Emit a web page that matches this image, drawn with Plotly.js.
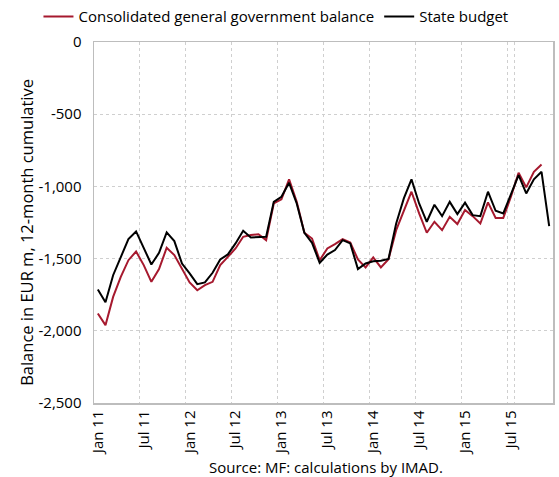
<!DOCTYPE html>
<html>
<head>
<meta charset="utf-8">
<script src="https://cdn.plot.ly/plotly-3.0.1.min.js"></script>
<style>html,body{margin:0;padding:0;background:#fff;}#chart{width:559px;height:477px;}</style>
</head>
<body>
<div id="chart"></div>
<script>
var monthNames = ['Jan','Feb','Mar','Apr','May','Jun','Jul','Aug','Sep','Oct','Nov','Dec'];
var years = ['11','12','13','14','15'];
var categories = [];
years.forEach(function(y){ monthNames.forEach(function(m){ categories.push(m + ' ' + y); }); });

var tickLabels = ['Jan 11','Jul 11','Jan 12','Jul 12','Jan 13','Jul 13','Jan 14','Jul 14','Jan 15','Jul 15'];

var consolidated = [
  -1880,-1961,-1765,-1626,-1511,-1451,-1545,-1661,-1573,-1425,-1476,-1568,
  -1665,-1719,-1684,-1661,-1545,-1488,-1430,-1349,-1337,-1331,-1372,-1118,
  -1090,-951,-1107,-1321,-1361,-1511,-1430,-1400,-1365,-1388,-1506,-1561,
  -1492,-1561,-1504,-1303,-1164,-1037,-1187,-1321,-1245,-1303,-1211,-1261,
  -1164,-1206,-1257,-1111,-1218,-1218,-1072,-906,-1007,-899,-848,null
];
var stateBudget = [
  -1714,-1802,-1615,-1488,-1365,-1312,-1423,-1541,-1460,-1319,-1379,-1534,
  -1603,-1677,-1665,-1598,-1506,-1471,-1395,-1307,-1354,-1349,-1349,-1107,
  -1072,-975,-1118,-1321,-1391,-1529,-1472,-1441,-1372,-1395,-1573,-1534,
  -1518,-1515,-1502,-1257,-1083,-951,-1118,-1245,-1127,-1206,-1107,-1192,
  -1113,-1199,-1206,-1037,-1169,-1187,-1060,-922,-1049,-951,-899,-1275
];
var yTickVals = [0,-500,-1000,-1500,-2000,-2500];
var yTickText = ['0','-500','-1,000','-1,500','-2,000','-2,500'];

var FONT = 'Open Sans, Noto Sans, sans-serif';

var traces = [
  {x: categories, y: consolidated, type: 'scatter', mode: 'lines', name: 'Consolidated general government balance',
   line: {color: '#a6192e', width: 2}},
  {x: categories, y: stateBudget, type: 'scatter', mode: 'lines', name: 'State budget',
   line: {color: '#000000', width: 2}}
];

var layout = {
  width: 559, height: 477,
  margin: {l: 94, r: 6, t: 42, b: 74, autoexpand: false},
  paper_bgcolor: '#fff', plot_bgcolor: '#fff',
  font: {family: FONT, size: 15, color: '#000'},
  showlegend: true,
  legend: {orientation: 'h', x: -0.121, xanchor: 'left', y: 1.07, yanchor: 'middle',
           font: {family: FONT, size: 15, color: '#000'}, bgcolor: 'rgba(0,0,0,0)', itemwidth: 30, tracegroupgap: 0},
  xaxis: {
    type: 'category', range: [-0.5, 59.5],
    tickmode: 'array', tickvals: tickLabels, ticktext: tickLabels,
    tickson: 'boundaries', ticks: '', tickangle: -90,
    showgrid: true, gridcolor: '#cfcfcf', griddash: 'dot', gridwidth: 1,
    showline: true, linecolor: '#bdbdbd', linewidth: 1.5, mirror: true,
    tickfont: {family: FONT, size: 15, color: '#000'},
    zeroline: false
  },
  yaxis: {
    range: [-2500, 0], tickmode: 'array', tickvals: yTickVals, ticktext: yTickText,
    showgrid: true, gridcolor: '#cfcfcf', griddash: 'dot', gridwidth: 1,
    showline: true, linecolor: '#bdbdbd', linewidth: 1.5, mirror: true,
    ticks: '', ticklabelstandoff: 8, zeroline: false,
    tickfont: {family: FONT, size: 15, color: '#000'}
  },
  annotations: [
    {text: 'Balance in EUR m, 12-month cumulative', xref: 'paper', yref: 'paper', x: -0.146, y: 0.474,
     xanchor: 'center', yanchor: 'middle', textangle: -90, showarrow: false,
     font: {family: FONT, size: 16.5, color: '#000'}},
    {text: 'Source: MF: calculations by IMAD.', xref: 'paper', yref: 'paper', x: 0.505, y: -0.176, xanchor: 'center', yanchor: 'middle',
     showarrow: false, font: {family: FONT, size: 15, color: '#000'}}
  ]
};

Plotly.newPlot('chart', traces, layout, {displayModeBar: false, staticPlot: true});
</script>
</body>
</html>
